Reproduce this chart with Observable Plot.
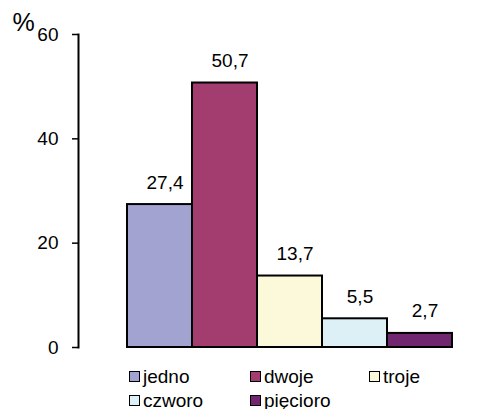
<!DOCTYPE html>
<html>
<head>
<meta charset="utf-8">
<script src="https://cdn.jsdelivr.net/npm/d3@7"></script>
<script src="https://cdn.jsdelivr.net/npm/@observablehq/plot@0.6"></script>
<style>
  html, body { margin: 0; padding: 0; background: #fff; }
  #chart { width: 495px; position: relative; font-family: Arial, "Liberation Sans", sans-serif; }
  #chart svg { display: block; }
  .legend { display: grid; grid-template-columns: 121px 119px 120px; grid-auto-rows: 24px;
            padding-left: 129px; padding-top: 4px; font-size: 19px; line-height: 1; color: #000; }
  .legend .item { display: flex; align-items: center; white-space: nowrap; }
  .legend .sw { width: 9px; height: 9px; border: 1.5px solid #000; margin-right: 3px; flex: none; }
</style>
</head>
<body>
<div id="chart"></div>
<script>
// Number of children in the family (share of respondents, %)
const categories = ["jedno", "dwoje", "troje", "czworo", "pięcioro"];
const shares = [27.4, 50.7, 13.7, 5.5, 2.7];
const colors = ["#a3a3d1", "#a33d6f", "#fbf9d9", "#dcf0f6", "#712670"];
const yTicks = [0, 20, 40, 60];

const rows = categories.map((c, i) => ({category: c, share: shares[i]}));
const fmt = v => v.toFixed(1).replace(".", ",");

const plot = Plot.plot({
  width: 495,
  height: 360,
  marginTop: 34,
  marginBottom: 13,
  marginLeft: 78,
  marginRight: 0,
  style: {fontFamily: "Arial, 'Liberation Sans', sans-serif", fontSize: "19px", color: "#000"},
  x: {domain: categories, range: [126, 453], padding: 0, axis: null},
  y: {domain: [0, 60], ticks: yTicks, label: null},
  color: {domain: categories, range: colors},
  marks: [
    Plot.barY(rows, {x: "category", y: "share", fill: "category", stroke: "#000", strokeWidth: 2}),
    Plot.text(rows, {x: "category", y: "share", text: d => fmt(d.share), lineAnchor: "bottom",
                     dy: -16, dx: 5, fontSize: 19, fill: "#000"}),
    Plot.axisY({ticks: yTicks, tickSize: 6, tickPadding: 14, tickFormat: d => String(d),
                fontSize: 19, label: null, strokeWidth: 1.5}),
    Plot.frame({anchor: "left", stroke: "#000", strokeWidth: 2}),
    Plot.ruleY([0], {x1: 72, x2: 495, stroke: "#000", strokeWidth: 2}),
    Plot.text(["%"], {frameAnchor: "top-left", textAnchor: "start", lineAnchor: "middle",
                      dx: -66, dy: -12, fontSize: 25, fill: "#000"})
  ]
});

const chart = document.getElementById("chart");
chart.appendChild(plot);

// Legend below the plot
const legend = document.createElement("div");
legend.className = "legend";
categories.forEach((c, i) => {
  const item = document.createElement("div");
  item.className = "item";
  const sw = document.createElement("span");
  sw.className = "sw";
  sw.style.background = colors[i];
  const label = document.createElement("span");
  label.textContent = c;
  item.append(sw, label);
  legend.appendChild(item);
});
chart.appendChild(legend);
</script>
</body>
</html>
